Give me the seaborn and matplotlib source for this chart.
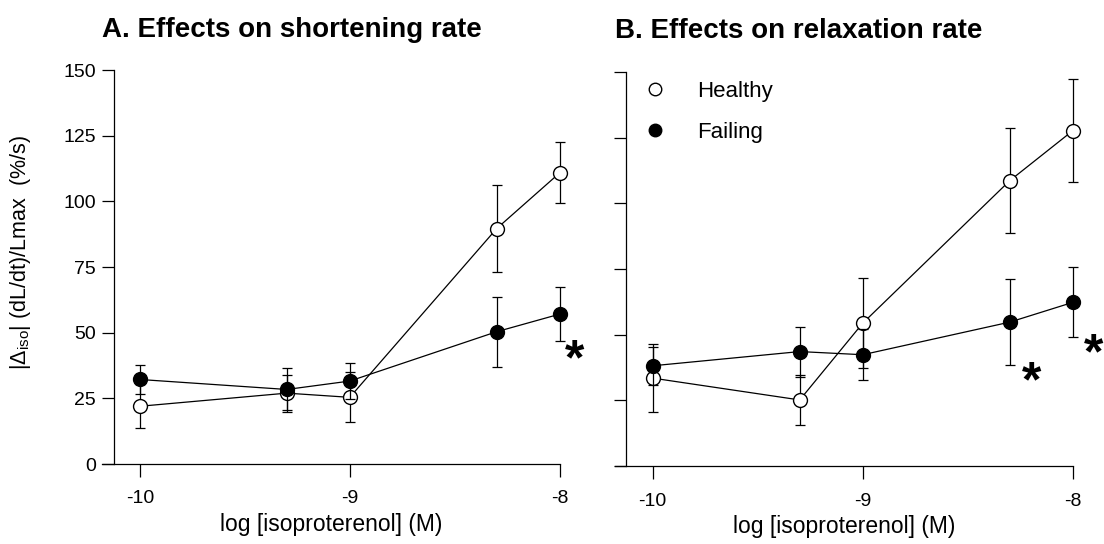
import numpy as np
import pandas as pd
import matplotlib
matplotlib.use("Agg")
import matplotlib.pyplot as plt
from matplotlib.lines import Line2D
import seaborn as sns

# ---- data ----
log_iso = [-10, -9.3, -9, -8.3, -8]

a_healthy = [22.0, 27.0, 25.4, 89.7, 110.9]
a_healthy_err = [8.3, 7.0, 9.5, 16.5, 11.6]
a_failing = [32.2, 28.4, 31.6, 50.4, 57.1]
a_failing_err = [5.5, 8.0, 7.0, 13.4, 10.3]

b_healthy = [33.5, 25.2, 54.4, 108.6, 127.6]
b_healthy_err = [13.0, 9.6, 17.0, 20.0, 19.6]
b_failing = [38.2, 43.6, 42.4, 54.8, 62.3]
b_failing_err = [7.3, 9.5, 9.8, 16.4, 13.3]

titles = ["A. Effects on shortening rate", "B. Effects on relaxation rate"]
group_labels = ["Healthy", "Failing"]
yticks = [0, 25, 50, 75, 100, 125, 150]
xticks = [-10, -9, -8]
a_stars = [(-7.93, 43.5)]
b_stars = [(-8.195, 36.0), (-7.90, 46.8)]

sns.set_theme(style="ticks")
plt.rcParams["font.family"] = ["Liberation Sans", "DejaVu Sans"]
plt.rcParams["mathtext.fontset"] = "custom"
plt.rcParams["mathtext.rm"] = "Liberation Sans"
plt.rcParams["mathtext.it"] = "Liberation Sans:italic"
plt.rcParams["mathtext.bf"] = "Liberation Sans:bold"
for k in ["text.color", "axes.labelcolor", "xtick.color", "ytick.color",
          "axes.edgecolor"]:
    plt.rcParams[k] = "black"

fig = plt.figure(figsize=(11.04, 5.44), dpi=100)
axA = fig.add_axes([0.0924, 0.147, 0.4146, 0.724])
axB = fig.add_axes([0.557, 0.143, 0.4147, 0.725])

panels = [
    (axA, a_healthy, a_healthy_err, a_failing, a_failing_err, a_stars, titles[0]),
    (axB, b_healthy, b_healthy_err, b_failing, b_failing_err, b_stars, titles[1]),
]

for ax, h, he, f, fe, stars, title in panels:
    dh = pd.DataFrame({"x": log_iso, "y": h})
    dfl = pd.DataFrame({"x": log_iso, "y": f})
    ax.errorbar(log_iso, h, yerr=he, fmt="none", ecolor="black",
                elinewidth=0.9, capsize=3.8, capthick=0.9, clip_on=False)
    sns.lineplot(data=dh, x="x", y="y", ax=ax, color="black", linewidth=0.9,
                 marker="o", markersize=10, markerfacecolor="white",
                 markeredgecolor="black", markeredgewidth=1.0, clip_on=False)
    ax.errorbar(log_iso, f, yerr=fe, fmt="none", ecolor="black",
                elinewidth=0.9, capsize=3.8, capthick=0.9, clip_on=False)
    sns.lineplot(data=dfl, x="x", y="y", ax=ax, color="black", linewidth=0.9,
                 marker="o", markersize=10, markerfacecolor="black",
                 markeredgecolor="black", markeredgewidth=1.0, clip_on=False)
    for sx, sy in stars:
        ax.text(sx, sy - 4.5, "*", fontsize=36, fontweight="bold", ha="center",
                va="center", color="black", clip_on=False)

    ax.set_xlim(-10.18, -8.0)
    ax.set_ylim(0, 150)
    ax.spines["left"].set_position(("data", -10.125))
    ax.spines["right"].set_visible(False)
    ax.spines["top"].set_visible(False)
    for s in ["left", "bottom"]:
        ax.spines[s].set_linewidth(0.9)
        ax.spines[s].set_color("black")
    ax.set_xticks(xticks)
    ax.set_xticklabels([str(t) for t in xticks])
    ax.set_yticks(yticks)
    ax.tick_params(axis="y", direction="out", length=8.5, width=0.9,
                   colors="black", labelsize=14, pad=4)
    ax.tick_params(axis="x", direction="out", length=9, width=0.9,
                   colors="black", labelsize=14, pad=10)
    ax.set_xlabel("log [isoproterenol] (M)", fontsize=16.5, labelpad=4)
    ax.set_ylabel("")
    ax.set_title(title, fontsize=20, fontweight="bold", loc="left",
                 x=0.0, pad=24)

axB.set_yticklabels([])
axA.set_ylabel(r"$|\Delta_{\mathrm{iso}}|$ (dL/dt)/Lmax  (%/s)", fontsize=15.5)
axA.yaxis.set_label_coords(-0.151, 0.538)

handles = [
    Line2D([], [], linestyle="none", marker="o", markersize=9,
           markerfacecolor="white", markeredgecolor="black", color="black"),
    Line2D([], [], linestyle="none", marker="o", markersize=9,
           markerfacecolor="black", markeredgecolor="black", color="black"),
]
axB.legend(handles, group_labels, loc="upper left", bbox_to_anchor=(0.019, 1.027),
           frameon=False, fontsize=16, handlelength=1.0, handletextpad=1.4,
           labelspacing=0.9)

fig.savefig("out.png", dpi=100)
